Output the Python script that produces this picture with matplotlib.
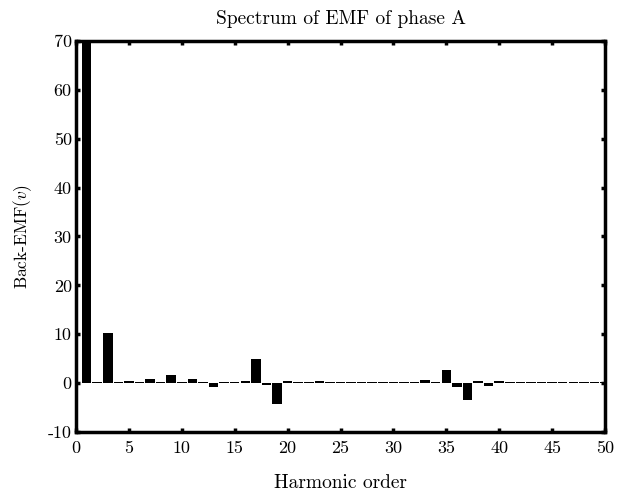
import numpy as np
import matplotlib.pyplot as plt

plt.rcParams['font.family'] = ['cmr10', 'DejaVu Serif']
plt.rcParams['mathtext.fontset'] = 'cm'

# harmonic amplitudes of phase A back-EMF (V)
harmonics = np.arange(1, 51)
amplitude = [
    78.0, 0.3, 10.3, 0.3, 0.5, 0.3, 0.8, 0.3, 1.6, 0.3,
    0.8, 0.3, -0.7, 0.3, 0.3, 0.4, 5.0, -0.4, -4.2, 0.4,
    0.3, 0.3, 0.4, 0.3, 0.3, 0.3, 0.3, 0.3, 0.3, 0.3,
    0.3, 0.3, 0.6, 0.3, 2.6, -0.7, -3.5, 0.4, -0.6, 0.4,
    0.3, 0.3, 0.3, 0.3, 0.3, 0.3, 0.3, 0.3, 0.3, 0.3,
]
xticks = [0, 5, 10, 15, 20, 25, 30, 35, 40, 45, 50]
yticks = [-10, 0, 10, 20, 30, 40, 50, 60, 70]

fig = plt.figure(figsize=(6.19, 4.91), dpi=100)
ax = fig.add_axes([0.1228, 0.1202, 0.8546, 0.7963])

ax.bar(harmonics, amplitude, width=0.9, color='black')

ax.set_xlim(0, 50)
ax.set_ylim(-10, 70)
ax.set_xticks(xticks)
ax.set_xticklabels([str(t) for t in xticks])
ax.set_yticks(yticks)
ax.set_yticklabels([str(t) for t in yticks])
ax.tick_params(direction='in', length=3, width=2.5, labelsize=13,
               top=True, right=True)
ax.tick_params(axis='x', pad=6)
ax.tick_params(axis='y', pad=3)
for s in ax.spines.values():
    s.set_linewidth(2.5)

ax.set_title('Spectrum of EMF of phase A', fontsize=14, pad=12)
ax.set_xlabel('Harmonic order', fontsize=14, labelpad=13)
ax.set_ylabel('Back-EMF$(v)$', fontsize=12.5, labelpad=10)

fig.savefig('out.png', dpi=100)
